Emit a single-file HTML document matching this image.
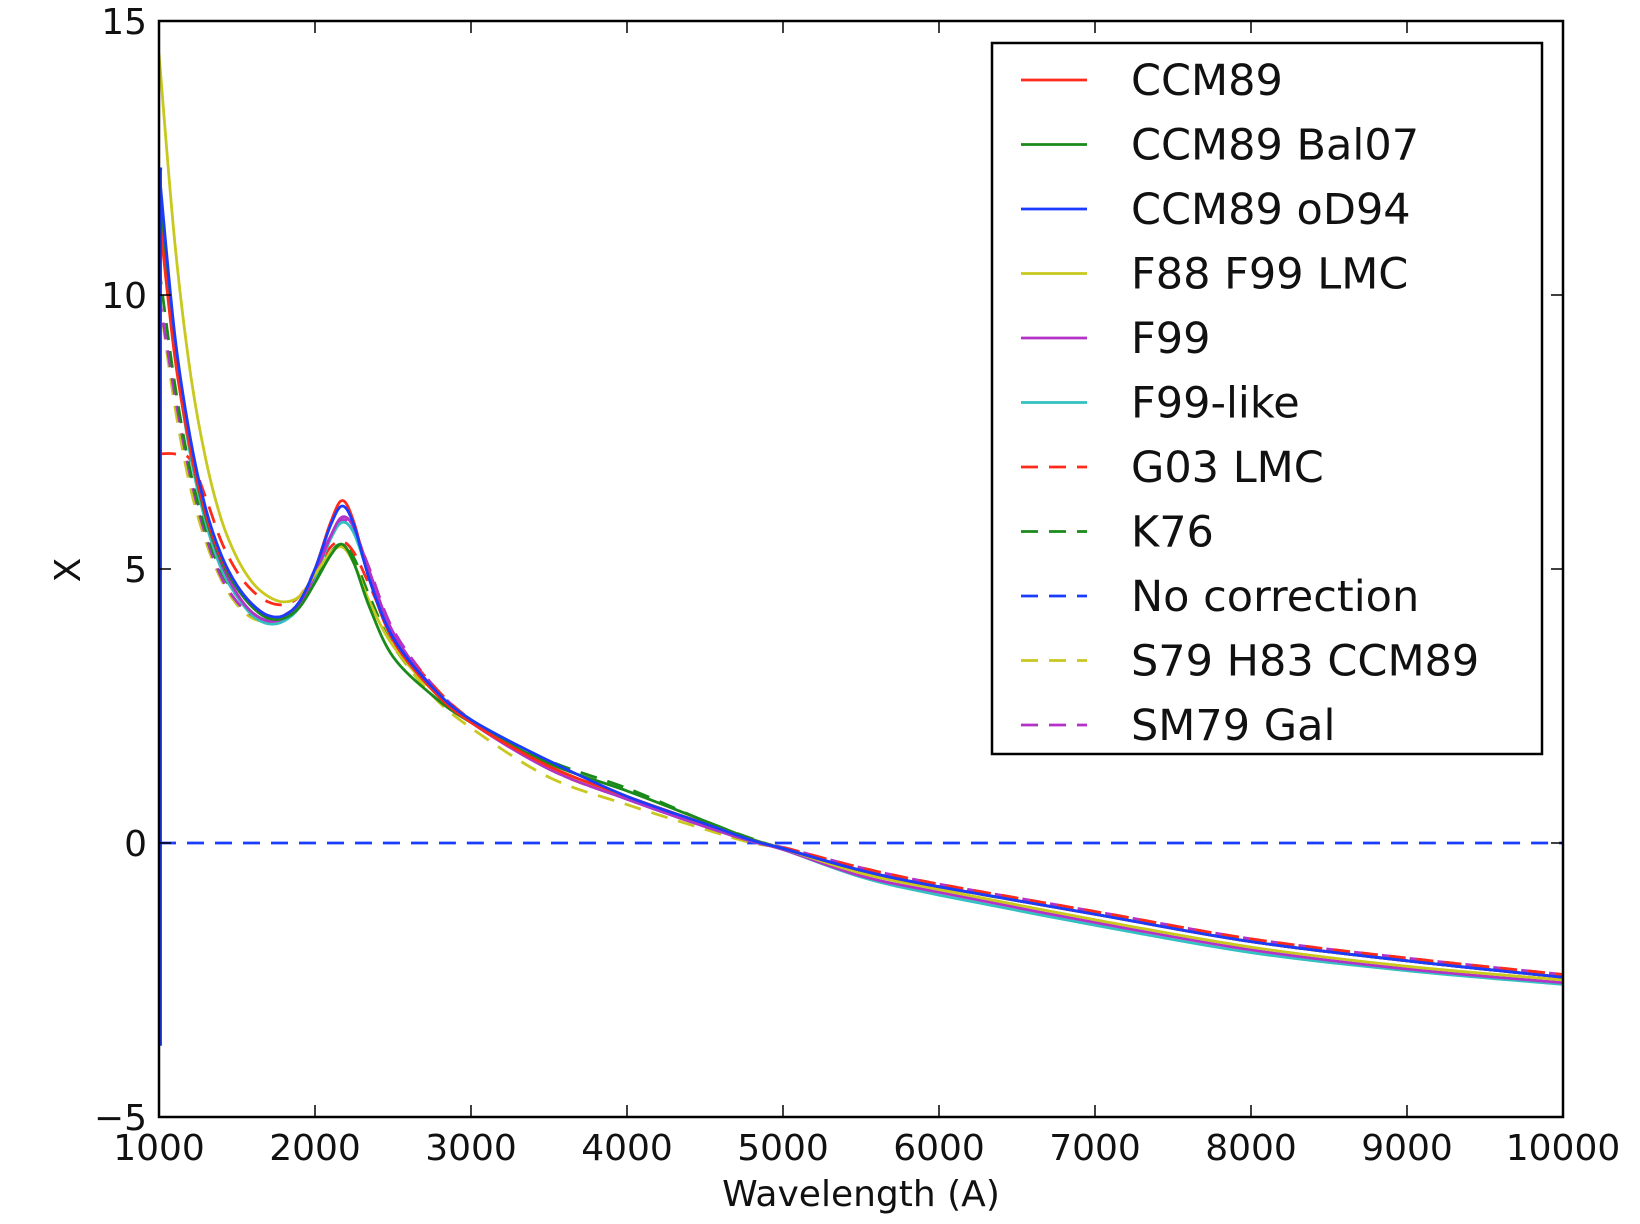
<!DOCTYPE html>
<html><head><meta charset="utf-8">
<style>
html,body{margin:0;padding:0;background:#fff;}
svg{display:block;font-family:"DejaVu Sans","Liberation Sans",sans-serif;}
</style></head>
<body>
<svg id="chart" width="1640" height="1224" viewBox="0 0 1640 1224" xmlns="http://www.w3.org/2000/svg">
<g id="plot"></g>
<g id="axes"></g>
<g id="legend"></g>
</svg>
<script>
const wavelengths = [1000,1100,1200,1300,1400,1500,1600,1700,1800,1900,2000,2100,2175,2250,2350,2500,2750,3000,3500,4000,4500,4800,5000,5500,6000,7000,8000,9000,10000];
const ccm89 = [11.5,8.9,7.2,6.0,5.2,4.7,4.35,4.15,4.15,4.4,5.0,5.85,6.25,5.85,4.8,3.7,2.8,2.2,1.4,0.85,0.35,0.05,-0.1,-0.5,-0.8,-1.3,-1.8,-2.15,-2.45];
const ccm89Bal07 = [11.8,9.0,7.2,5.95,5.15,4.65,4.3,4.1,4.1,4.3,4.75,5.25,5.45,5.1,4.3,3.4,2.7,2.2,1.45,0.95,0.4,0.07,-0.1,-0.5,-0.8,-1.3,-1.8,-2.15,-2.45];
const ccm89oD94 = [12.3,9.3,7.4,6.1,5.25,4.7,4.35,4.15,4.15,4.4,5.0,5.8,6.15,5.8,4.8,3.75,2.85,2.25,1.5,0.85,0.35,0.05,-0.1,-0.5,-0.8,-1.3,-1.8,-2.15,-2.45];
const oD94StartX = [1010,1010];
const oD94StartY = [-3.7,12.3];
const f88f99lmc = [14.4,11.0,8.6,7.0,5.9,5.2,4.75,4.5,4.4,4.5,4.9,5.3,5.4,5.1,4.4,3.6,2.8,2.25,1.4,0.85,0.35,0.05,-0.1,-0.55,-0.85,-1.4,-1.9,-2.25,-2.5];
const f99 = [11.8,9.1,7.2,5.95,5.1,4.55,4.2,4.05,4.1,4.35,4.9,5.6,5.95,5.75,4.95,3.85,2.85,2.2,1.35,0.8,0.3,0.03,-0.12,-0.6,-0.9,-1.45,-1.95,-2.3,-2.55];
const f99like = [11.6,9.0,7.1,5.85,5.0,4.5,4.15,4.0,4.05,4.3,4.85,5.55,5.85,5.65,4.85,3.8,2.8,2.2,1.35,0.8,0.3,0.03,-0.12,-0.62,-0.95,-1.5,-2.0,-2.33,-2.58];
const g03lmc = [7.1,7.1,7.0,6.3,5.5,4.95,4.6,4.4,4.35,4.5,4.95,5.4,5.5,5.3,4.7,3.8,2.9,2.25,1.35,0.8,0.3,0.03,-0.08,-0.45,-0.75,-1.25,-1.75,-2.1,-2.4];
const k76 = [10.5,8.4,6.8,5.7,4.95,4.5,4.2,4.05,4.1,4.3,4.8,5.3,5.45,5.2,4.5,3.6,2.8,2.2,1.5,1.0,0.4,0.08,-0.1,-0.5,-0.8,-1.3,-1.8,-2.15,-2.45];
const noCorrection = [0,0,0,0,0,0,0,0,0,0,0,0,0,0,0,0,0,0,0,0,0,0,0,0,0,0,0,0,0];
const s79h83 = [10.0,8.0,6.5,5.5,4.8,4.35,4.1,4.05,4.15,4.4,4.9,5.3,5.4,5.2,4.5,3.6,2.7,2.1,1.2,0.7,0.25,0.0,-0.1,-0.5,-0.8,-1.3,-1.8,-2.15,-2.45];
const sm79gal = [10.0,8.2,6.7,5.6,4.85,4.4,4.15,4.05,4.15,4.4,5.0,5.6,5.9,5.7,5.0,3.9,2.9,2.25,1.35,0.8,0.3,0.03,-0.08,-0.45,-0.75,-1.25,-1.75,-2.1,-2.4];
const xTicks = [1000,2000,3000,4000,5000,6000,7000,8000,9000,10000];
const yTicks = [-5,0,5,10,15];
const seriesNames = ["CCM89","CCM89 Bal07","CCM89 oD94","F88 F99 LMC","F99","F99-like","G03 LMC","K76","No correction","S79 H83 CCM89","SM79 Gal"];

const NS="http://www.w3.org/2000/svg";
const L=159,R=1563,T=21,B=1117;
const xMin=1000,xMax=10000,yMin=-5,yMax=15;
function xs(v){return L+(v-xMin)/(xMax-xMin)*(R-L);}
function ys(v){return B-(v-yMin)/(yMax-yMin)*(B-T);}
function mk(tag,attrs,parent){const e=document.createElementNS(NS,tag);for(const k in attrs)e.setAttribute(k,attrs[k]);parent.appendChild(e);return e;}

const styles=[
 {c:"#ff2a1a",d:null},{c:"#1a8a1a",d:null},{c:"#1a3cff",d:null},{c:"#c8c81e",d:null},
 {c:"#b432c8",d:null},{c:"#32c0c0",d:null},{c:"#ff2a1a",d:"17,11"},{c:"#1a8a1a",d:"17,11"},
 {c:"#1a3cff",d:"17,11"},{c:"#c8c81e",d:"17,11"},{c:"#b432c8",d:"17,11"}];
const seriesData=[ccm89,ccm89Bal07,ccm89oD94,f88f99lmc,f99,f99like,g03lmc,k76,noCorrection,s79h83,sm79gal];
const slugs=["ccm89","ccm89-bal07","ccm89-od94","f88-f99-lmc","f99","f99-like","g03-lmc","k76","no-correction","s79-h83-ccm89","sm79-gal"];

function smoothPath(px,py){
  let d="M"+px[0].toFixed(1)+","+py[0].toFixed(1);
  for(let i=0;i<px.length-1;i++){
    const x0=px[Math.max(i-1,0)],y0=py[Math.max(i-1,0)];
    const x1=px[i],y1=py[i],x2=px[i+1],y2=py[i+1];
    const x3=px[Math.min(i+2,px.length-1)],y3=py[Math.min(i+2,px.length-1)];
    const c1x=x1+(x2-x0)/6,c1y=y1+(y2-y0)/6,c2x=x2-(x3-x1)/6,c2y=y2-(y3-y1)/6;
    d+=" C"+c1x.toFixed(1)+","+c1y.toFixed(1)+" "+c2x.toFixed(1)+","+c2y.toFixed(1)+" "+x2.toFixed(1)+","+y2.toFixed(1);
  }
  return d;
}

const plot=document.getElementById('plot');
const clip=mk('clipPath',{id:'cp'},plot);
mk('rect',{x:L,y:T,width:R-L,height:B-T},clip);
const pg=mk('g',{'clip-path':'url(#cp)'},plot);
const order=[8,9,10,7,6,5,4,3,1,0,2];
order.forEach(i=>{
  const px=wavelengths.map(xs), py=seriesData[i].map(ys);
  const p=mk('path',{d:smoothPath(px,py),fill:'none',stroke:styles[i].c,'stroke-width':2.8,'stroke-linejoin':'round'},pg);
  if(styles[i].d)p.setAttribute('stroke-dasharray',styles[i].d);
  
  
});
const st=mk('path',{d:"M"+xs(oD94StartX[0])+","+ys(oD94StartY[0])+" L"+xs(oD94StartX[1])+","+ys(oD94StartY[1])+" L"+xs(wavelengths[0]+20)+","+ys(ccm89oD94[0]),fill:'none',stroke:styles[2].c,'stroke-width':2.8},pg);



const ax=document.getElementById('axes');
const frame=mk('rect',{x:L,y:T,width:R-L,height:B-T,fill:'none',stroke:'#000','stroke-width':2.5},ax);


xTicks.forEach(v=>{
  const x=xs(v);
  mk('line',{x1:x,y1:B,x2:x,y2:B-12,stroke:'#000','stroke-width':1.5},ax);
  mk('line',{x1:x,y1:T,x2:x,y2:T+12,stroke:'#000','stroke-width':1.5},ax);
  const t=mk('text',{x:x,y:1160,'font-size':36,'text-anchor':'middle',fill:'#111'},ax);
  t.textContent=String(v);
  
  
});
yTicks.forEach(v=>{
  const y=ys(v);
  mk('line',{x1:L,y1:y,x2:L+12,y2:y,stroke:'#000','stroke-width':1.5},ax);
  mk('line',{x1:R,y1:y,x2:R-12,y2:y,stroke:'#000','stroke-width':1.5},ax);
  const t=mk('text',{x:147,y:y+13,'font-size':36,'text-anchor':'end',fill:'#111'},ax);
  t.textContent=String(v).replace('-','\u2212');
  
  
});
const xt=mk('text',{x:(L+R)/2,y:1206,'font-size':36,'text-anchor':'middle',fill:'#111'},ax);
xt.textContent="Wavelength (A)";


const yt=mk('text',{x:0,y:0,'font-size':36,'text-anchor':'middle',fill:'#111',transform:'translate(80,570) rotate(-90)'},ax);
yt.textContent="X";



const lg=document.getElementById('legend');
const box=mk('rect',{x:992,y:43,width:550,height:711,fill:'#fff',stroke:'#000','stroke-width':2.5},lg);


seriesNames.forEach((n,i)=>{
  const y=80+i*64.5;
  const g=mk('g',{},lg);
  
  
  const ln=mk('line',{x1:1021,y1:y,x2:1087,y2:y,stroke:styles[i].c,'stroke-width':2.8},g);
  if(styles[i].d)ln.setAttribute('stroke-dasharray',"17,11");
  const t=mk('text',{x:1131,y:y+15,'font-size':43,fill:'#111'},g);
  t.textContent=n;
});
</script>
</body></html>
